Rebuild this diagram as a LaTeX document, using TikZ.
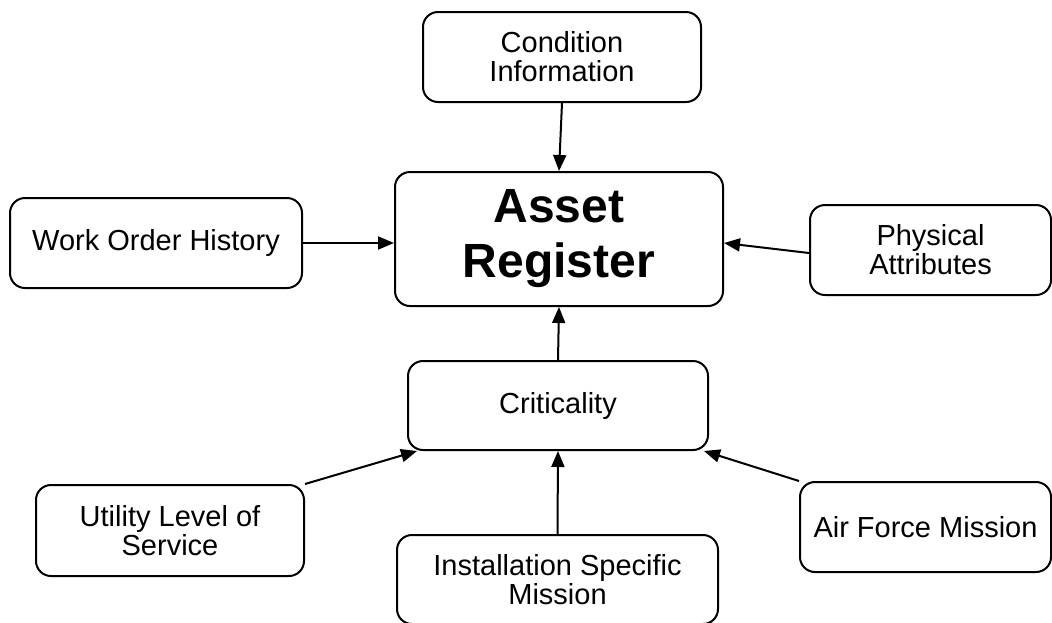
\documentclass[tikz,border=0pt]{standalone}
\usepackage{fontspec}
\setmainfont{Liberation Sans}
\usepackage{tikz}
\usetikzlibrary{shapes, arrows.meta, positioning}

\begin{document}
\begin{tikzpicture}[x=1pt, y=-1pt, >={Triangle[length=16pt, width=13pt]},
    box/.style={draw, line width=2pt, rounded corners=15pt, align=center, inner sep=0pt,
      font=\fontsize{29}{29}\selectfont},
    link/.style={->, line width=2pt}]
                \useasboundingbox (0,0) rectangle (1052,622);

                \node[box, minimum width=278pt, minimum height=90pt] (cond) at (562,57) {Condition\\Information};
                \node[box, minimum width=328pt, minimum height=134pt,
                      font=\fontsize{48}{55}\selectfont\bfseries] (asset) at (559,239) {Asset\\Register};
                \node[box, minimum width=292pt, minimum height=90pt] (woh) at (156,243) {Work Order History};
                \node[box, minimum width=241pt, minimum height=90pt] (phys) at (930.5,250) {Physical\\Attributes};
                \node[box, minimum width=300pt, minimum height=89pt] (crit) at (558,405.5) {Criticality};
                \node[box, minimum width=268pt, minimum height=91pt] (uls) at (170,530.5) {Utility Level of\\Service};
                \node[box, minimum width=321pt, minimum height=89pt] (ism) at (557.5,579.5) {Installation Specific\\Mission};
                \node[box, minimum width=251pt, minimum height=90pt] (afm) at (925.5,527) {Air Force Mission};

                \draw[link] (cond.south) -- (asset.north);
                \draw[link] (woh.east) -- (asset.west |- woh.east);
                \draw[link] ([yshift=-3pt]phys.west) -- ([yshift=-4pt]asset.east);
                \draw[link] (crit.north) -- (asset.south);
                \draw[link] (ism.north) -- (crit.south);
                \draw[link] (uls.north east) -- ([xshift=10pt]crit.south west);
                \draw[link] (afm.north west) -- ([xshift=-5pt]crit.south east);
\end{tikzpicture}
\end{document}
